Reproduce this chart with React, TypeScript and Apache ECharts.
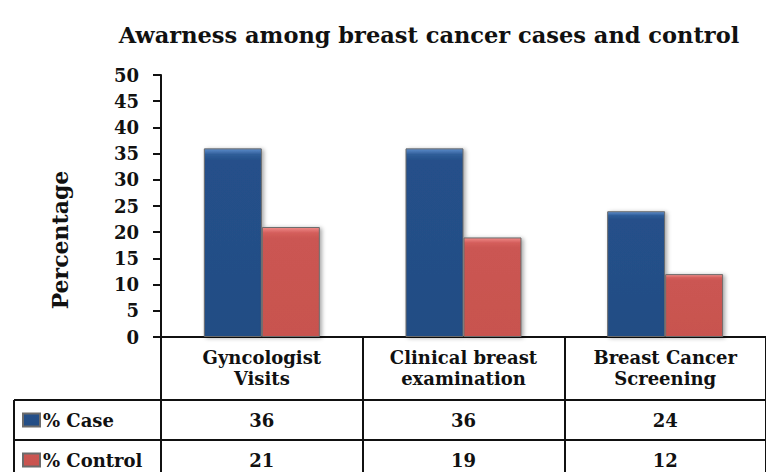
import React, { useEffect, useRef } from "react";
import * as echarts from "echarts";

const titleText = "Awarness among breast cancer cases and control";
const yAxisName = "Percentage";
const categories = ["Gyncologist\nVisits", "Clinical breast\nexamination", "Breast Cancer\nScreening"];
const seriesNames = ["% Case", "% Control"];
const caseValues = [36, 36, 24];
const controlValues = [21, 19, 12];

const FONT = "DejaVu Serif";
const GRID = { left: 161, top: 75, width: 607, height: 262 };
const ROW1 = 63;
const ROW2 = 103;

const blueFill = new echarts.graphic.LinearGradient(0, 0, 0, 1, [
  { offset: 0, color: "#5d8dcc" },
  { offset: 0.03, color: "#2f5d98" },
  { offset: 0.06, color: "#25508a" },
  { offset: 1, color: "#234d84" },
]);
const redFill = new echarts.graphic.LinearGradient(0, 0, 0, 1, [
  { offset: 0, color: "#f08a88" },
  { offset: 0.05, color: "#d45e5b" },
  { offset: 0.1, color: "#cb5652" },
  { offset: 1, color: "#c8534f" },
]);

export default function App() {
  const ref = useRef<HTMLDivElement>(null);
  useEffect(() => {
    if (!ref.current) return;
    const chart = echarts.init(ref.current, undefined, { renderer: "svg" });
    const bottomY = GRID.top + GRID.height;
    const lineStyle = { stroke: "#111", lineWidth: 2 };
    const valueAxis = (data: number[], offset: number) => ({
      type: "category",
      data: data.map(String),
      position: "bottom",
      offset,
      axisLine: { show: false },
      axisTick: { show: false },
      axisLabel: {
        interval: 0,
        margin: 20,
        verticalAlign: "middle",
        fontFamily: FONT,
        fontWeight: "bold",
        fontSize: 18,
        color: "#111",
      },
    });
    chart.setOption({
      animation: false,
      backgroundColor: "#fff",
      grid: { ...GRID, containLabel: false },
      legend: {
        orient: "vertical",
        left: 22,
        top: 410,
        padding: 0,
        itemWidth: 17,
        itemHeight: 13,
        itemGap: 20,
        icon: "rect",
        data: seriesNames,
        textStyle: {
          fontFamily: FONT,
          fontWeight: "bold",
          fontSize: 18,
          color: "#111",
          lineHeight: 20,
          padding: [0, 0, 0, -2],
        },
      },
      xAxis: [
        {
          type: "category",
          data: categories,
          axisLine: { lineStyle: { color: "#111", width: 2 } },
          axisTick: { show: true, length: 135, interval: 0, lineStyle: { color: "#111", width: 2 } },
          axisLabel: {
            interval: 0,
            margin: 31,
            verticalAlign: "middle",
            lineHeight: 21,
            fontFamily: FONT,
            fontWeight: "bold",
            fontSize: 18,
            color: "#111",
          },
        },
        valueAxis(caseValues, ROW1),
        valueAxis(controlValues, ROW2),
      ],
      yAxis: {
        type: "value",
        min: 0,
        max: 50,
        interval: 5,
        axisLine: { show: true, lineStyle: { color: "#111", width: 2 } },
        axisTick: { show: true, length: 8, lineStyle: { color: "#111", width: 2 } },
        splitLine: { show: false },
        axisLabel: { margin: 22, fontFamily: FONT, fontWeight: "bold", fontSize: 18, color: "#111" },
      },
      series: [
        {
          name: seriesNames[0],
          type: "bar",
          data: caseValues,
          barWidth: 58,
          barGap: "0%",
          itemStyle: {
            color: blueFill,
            borderColor: "#6b6b6b",
            borderWidth: 1,
            shadowBlur: 4,
            shadowColor: "rgba(0,0,0,0.35)",
            shadowOffsetX: 2,
            shadowOffsetY: 1,
          },
        },
        {
          name: seriesNames[1],
          type: "bar",
          data: controlValues,
          barWidth: 58,
          barGap: "0%",
          itemStyle: {
            color: redFill,
            borderColor: "#6b6b6b",
            borderWidth: 1,
            shadowBlur: 4,
            shadowColor: "rgba(0,0,0,0.35)",
            shadowOffsetX: 2,
            shadowOffsetY: 1,
          },
        },
      ],
      graphic: [
        {
          type: "text",
          x: 429,
          y: 35,
          style: {
            text: titleText,
            textAlign: "center",
            textVerticalAlign: "middle",
            fontFamily: FONT,
            fontWeight: "bold",
            fontSize: 22.5,
            fill: "#111",
          },
        },
        {
          type: "text",
          x: 60,
          y: 240,
          rotation: Math.PI / 2,
          style: {
            text: yAxisName,
            textAlign: "center",
            textVerticalAlign: "middle",
            fontFamily: FONT,
            fontWeight: "bold",
            fontSize: 22,
            fill: "#111",
          },
        },
        { type: "line", shape: { x1: 14, y1: bottomY + ROW1, x2: 766, y2: bottomY + ROW1 }, style: lineStyle },
        { type: "line", shape: { x1: 14, y1: bottomY + ROW2, x2: 766, y2: bottomY + ROW2 }, style: lineStyle },
        { type: "line", shape: { x1: 14, y1: bottomY + ROW1, x2: 14, y2: 472 }, style: lineStyle },
      ],
    });
    return () => chart.dispose();
  }, []);
  return <div ref={ref} style={{ position: "fixed", left: 0, top: 0, width: 766, height: 472 }} />;
}
